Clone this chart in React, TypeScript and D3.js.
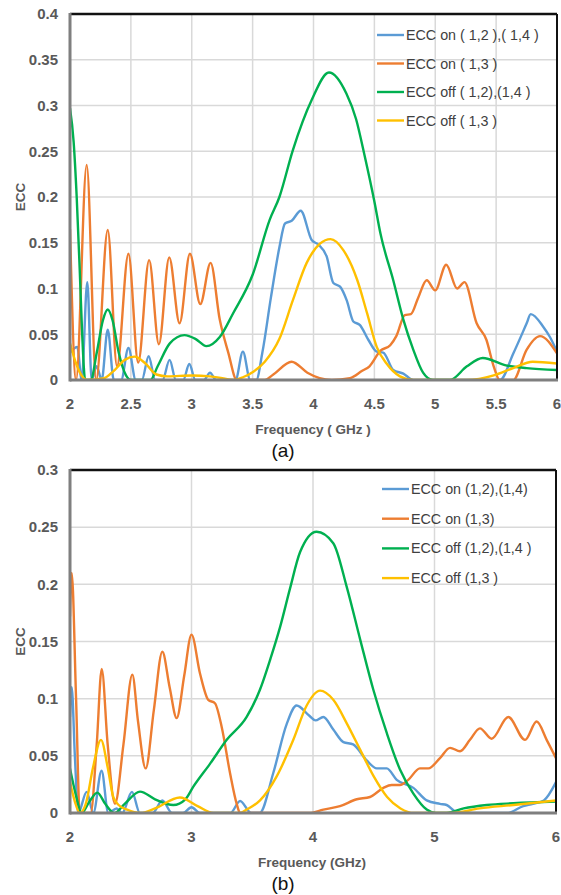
import React from 'react';
import * as d3 from 'd3';

type Pt = [number, number];

const FONT = 'Arial, "Liberation Sans", Helvetica, sans-serif';
const COLORS = ['#5b9bd5', '#ed7d31', '#00b050', '#ffc000'];

// ---------- Panel (a) ----------
const topXTicks = [2, 2.5, 3, 3.5, 4, 4.5, 5, 5.5, 6];
const topYTicks = [0, 0.05, 0.1, 0.15, 0.2, 0.25, 0.3, 0.35, 0.4];
const topLegend = ['ECC on ( 1,2 ),( 1,4 )', 'ECC on ( 1,3 )', 'ECC off ( 1,2),(1,4 )', 'ECC off ( 1,3 )'];

const topOnA: Pt[] = [[2.0,0.03],[2.06,0.036],[2.096,0.0],[2.142,0.107],[2.178,0.0],[2.219,0.015],[2.26,0.0],[2.31,0.055],[2.36,0.0],[2.42,0.0],[2.48,0.035],[2.54,0.0],[2.59,0.0],[2.646,0.026],[2.70,0.0],[2.76,0.0],[2.818,0.022],[2.87,0.0],[2.93,0.0],[2.98,0.0175],[3.03,0.0],[3.10,0.0],[3.15,0.008],[3.20,0.0],[3.36,0.0],[3.42,0.031],[3.48,0.0],[3.53,0.0],[3.58,0.03],[3.65,0.09],[3.72,0.145],[3.766,0.171],[3.821,0.174],[3.895,0.185],[3.985,0.153],[4.04,0.148],[4.108,0.135],[4.163,0.106],[4.218,0.102],[4.273,0.087],[4.327,0.064],[4.382,0.060],[4.45,0.044],[4.519,0.031],[4.573,0.030],[4.655,0.011],[4.738,0.007],[4.82,0.0],[5.532,0.0],[5.641,0.029],[5.751,0.062],[5.784,0.072],[5.888,0.058],[5.942,0.047],[6.0,0.031]];
const topOnB: Pt[] = [[2.0,0.165],[2.05,0.0],[2.137,0.235],[2.215,0.0],[2.31,0.164],[2.386,0.015],[2.48,0.138],[2.56,0.019],[2.65,0.131],[2.73,0.039],[2.815,0.134],[2.90,0.062],[2.985,0.138],[3.07,0.083],[3.155,0.128],[3.23,0.066],[3.30,0.03],[3.37,0.0],[3.6,0.0],[3.67,0.006],[3.82,0.020],[3.95,0.008],[4.05,0.002],[4.15,0.0],[4.3,0.002],[4.40,0.01],[4.46,0.015],[4.55,0.032],[4.63,0.038],[4.68,0.048],[4.75,0.071],[4.8,0.072],[4.86,0.09],[4.93,0.109],[5.0,0.098],[5.09,0.126],[5.18,0.100],[5.24,0.107],[5.34,0.062],[5.42,0.044],[5.48,0.015],[5.53,0.0],[5.64,0.0],[5.75,0.033],[5.86,0.048],[6.0,0.029]];
const topOffA: Pt[] = [[2.0,0.297],[2.03,0.26],[2.055,0.2],[2.08,0.12],[2.10,0.05],[2.125,0.0],[2.17,0.0],[2.22,0.03],[2.27,0.065],[2.31,0.077],[2.35,0.065],[2.40,0.03],[2.46,0.005],[2.50,0.0],[2.66,0.0],[2.72,0.015],[2.82,0.040],[2.94,0.049],[3.03,0.045],[3.12,0.037],[3.23,0.047],[3.34,0.073],[3.50,0.115],[3.64,0.175],[3.72,0.20],[3.83,0.251],[3.985,0.306],[4.127,0.336],[4.27,0.313],[4.35,0.285],[4.42,0.245],[4.5,0.195],[4.55,0.16],[4.655,0.109],[4.738,0.066],[4.82,0.033],[4.9,0.008],[4.98,0.0],[5.12,0.0],[5.26,0.015],[5.39,0.024],[5.58,0.016],[5.75,0.013],[6.0,0.011]];
const topOffB: Pt[] = [[2.0,0.040],[2.05,0.018],[2.1,0.004],[2.14,0.0],[2.28,0.002],[2.36,0.010],[2.45,0.022],[2.53,0.0255],[2.62,0.018],[2.71,0.006],[2.8,0.004],[3.0,0.005],[3.15,0.004],[3.25,0.002],[3.34,0.0],[3.42,0.003],[3.506,0.009],[3.6,0.02],[3.72,0.045],[3.83,0.087],[3.944,0.128],[4.053,0.149],[4.14,0.154],[4.245,0.142],[4.36,0.109],[4.44,0.073],[4.52,0.036],[4.6,0.018],[4.71,0.004],[4.82,0.0],[5.26,0.0],[5.48,0.005],[5.64,0.013],[5.80,0.020],[6.0,0.018]];

// ---------- Panel (b) ----------
const botXTicks = [2, 3, 4, 5, 6];
const botYTicks = [0, 0.05, 0.1, 0.15, 0.2, 0.25, 0.3];
const botLegend = ['ECC on (1,2),(1,4)', 'ECC on (1,3)', 'ECC off (1,2),(1,4 )', 'ECC off (1,3 )'];

const botOnA: Pt[] = [[2.0,0.084],[2.014,0.110],[2.04,0.05],[2.068,0.0],[2.137,0.0185],[2.192,0.0],[2.26,0.037],[2.315,0.0],[2.384,0.004],[2.43,0.0],[2.51,0.0185],[2.575,0.0],[2.68,0.0],[2.76,0.011],[2.84,0.0],[2.93,0.0],[3.0,0.005],[3.07,0.0],[3.32,0.0],[3.40,0.0105],[3.49,0.0],[3.56,0.0],[3.673,0.035],[3.784,0.078],[3.865,0.094],[3.97,0.085],[4.02,0.081],[4.085,0.084],[4.167,0.073],[4.25,0.062],[4.33,0.060],[4.442,0.046],[4.525,0.039],[4.607,0.039],[4.689,0.029],[4.826,0.022],[4.936,0.011],[5.045,0.008],[5.1,0.007],[5.18,0.001],[5.3,0.0],[5.6,0.0],[5.73,0.006],[5.81,0.008],[5.9,0.011],[6.0,0.027]];
const botOnB: Pt[] = [[2.0,0.172],[2.014,0.210],[2.05,0.1],[2.08,0.0],[2.17,0.0],[2.22,0.06],[2.261,0.126],[2.31,0.06],[2.37,0.008],[2.44,0.06],[2.513,0.121],[2.56,0.08],[2.623,0.039],[2.69,0.09],[2.76,0.141],[2.82,0.11],[2.878,0.083],[2.94,0.12],[3.0,0.156],[3.07,0.122],[3.138,0.099],[3.193,0.096],[3.249,0.075],[3.317,0.035],[3.372,0.008],[3.40,0.0],[3.97,0.0],[4.085,0.003],[4.222,0.006],[4.36,0.012],[4.469,0.014],[4.579,0.022],[4.648,0.0245],[4.716,0.0245],[4.784,0.029],[4.88,0.039],[4.949,0.039],[5.045,0.048],[5.128,0.057],[5.21,0.054],[5.292,0.064],[5.374,0.074],[5.471,0.065],[5.607,0.084],[5.745,0.064],[5.841,0.080],[5.923,0.064],[6.0,0.048]];
const botOffA: Pt[] = [[2.0,0.039],[2.05,0.015],[2.096,0.0],[2.16,0.01],[2.225,0.0178],[2.29,0.008],[2.365,0.0],[2.45,0.008],[2.576,0.0187],[2.7,0.012],[2.85,0.007],[2.95,0.012],[3.015,0.023],[3.152,0.043],[3.29,0.064],[3.454,0.084],[3.564,0.108],[3.65,0.135],[3.73,0.163],[3.81,0.196],[3.893,0.228],[4.03,0.246],[4.167,0.236],[4.277,0.198],[4.39,0.151],[4.496,0.108],[4.607,0.070],[4.716,0.038],[4.826,0.017],[4.936,0.003],[5.01,0.0],[5.1,0.0],[5.24,0.004],[5.43,0.007],[5.65,0.0085],[6.0,0.010]];
const botOffB: Pt[] = [[2.0,0.027],[2.04,0.01],[2.08,0.0],[2.13,0.008],[2.19,0.04],[2.255,0.064],[2.31,0.04],[2.356,0.014],[2.40,0.007],[2.47,0.003],[2.58,0.0],[2.7,0.004],[2.905,0.0135],[3.05,0.006],[3.18,0.0],[3.40,0.0],[3.454,0.003],[3.564,0.011],[3.701,0.032],[3.838,0.064],[3.948,0.094],[4.058,0.107],[4.167,0.099],[4.28,0.078],[4.39,0.055],[4.5,0.032],[4.61,0.014],[4.72,0.004],[4.83,0.0],[5.15,0.0],[5.37,0.004],[5.65,0.007],[6.0,0.011]];

interface PanelProps {
  id: string;
  left: number; right: number; top: number; bottom: number;
  yMax: number;
  xTicks: number[]; yTicks: number[];
  series: Pt[][];
  legend: string[];
  legendX: number; legendY: number; legendDy: number;
  xTitle: string; xTitleX: number; xTitleY: number;
  caption: string; captionX: number; captionY: number;
  xLabelY: number;
}

function Panel(p: PanelProps) {
  const x = d3.scaleLinear().domain([2, 6]).range([p.left, p.right]);
  const y = d3.scaleLinear().domain([0, p.yMax]).range([p.bottom, p.top]);
  const line = d3.line<Pt>().x(d => x(d[0])).y(d => y(d[1])).curve(d3.curveMonotoneX);
  const grid = '#d9d9d9';
  const tickFill = '#595959';
  return (
    <g>
      <defs>
        <clipPath id={p.id}>
          <rect x={p.left} y={p.top - 2} width={p.right - p.left} height={p.bottom - p.top + 3} />
        </clipPath>
      </defs>
      {p.yTicks.slice(1, -1).map(t => (
        <line key={'gy' + t} x1={p.left} x2={p.right} y1={y(t)} y2={y(t)} stroke={grid} strokeWidth={1.5} />
      ))}
      {p.xTicks.slice(1, -1).map(t => (
        <line key={'gx' + t} x1={x(t)} x2={x(t)} y1={p.top} y2={p.bottom} stroke={grid} strokeWidth={1.5} />
      ))}
      <g clipPath={`url(#${p.id})`}>
        {p.series.map((s, i) => (
          <path key={i} d={line(s) || ''} fill="none" stroke={COLORS[i]} strokeWidth={2.4} strokeLinejoin="round" />
        ))}
      </g>
      <line x1={p.left} x2={p.right} y1={p.top} y2={p.top} stroke="#111" strokeWidth={2.5} />
      <line x1={p.right} x2={p.right} y1={p.top} y2={p.bottom} stroke="#111" strokeWidth={2} />
      <line x1={p.left} x2={p.right + 1} y1={p.bottom} y2={p.bottom} stroke="#7f7f7f" strokeWidth={3} />
      <line x1={p.left} x2={p.left} y1={p.top - 1} y2={p.bottom + 1.5} stroke="#7f7f7f" strokeWidth={3} />
      {p.yTicks.map(t => (
        <text key={'ty' + t} x={p.left - 12} y={y(t)} dy="0.35em" textAnchor="end" fontFamily={FONT} fontWeight="bold" fontSize={15} fill={tickFill}>{String(t)}</text>
      ))}
      {p.xTicks.map(t => (
        <text key={'tx' + t} x={x(t)} y={p.xLabelY} dy="0.35em" textAnchor="middle" fontFamily={FONT} fontWeight="bold" fontSize={15} fill={tickFill}>{String(t)}</text>
      ))}
      <text transform={`translate(20,${(p.top + p.bottom) / 2}) rotate(-90)`} dy="0.35em" textAnchor="middle" fontFamily={FONT} fontWeight="bold" fontSize={13.5} fill={tickFill}>ECC</text>
      <text x={p.xTitleX} y={p.xTitleY} dy="0.35em" textAnchor="middle" fontFamily={FONT} fontWeight="bold" fontSize={13.5} fill={tickFill}>{p.xTitle}</text>
      <text x={p.captionX} y={p.captionY} dy="0.35em" textAnchor="middle" fontFamily={FONT} fontSize={19} fill="#111">{p.caption}</text>
      {p.legend.map((name, i) => (
        <g key={'lg' + i}>
          <line x1={p.legendX} x2={p.legendX + 27} y1={p.legendY + i * p.legendDy} y2={p.legendY + i * p.legendDy} stroke={COLORS[i]} strokeWidth={2.4} />
          <text x={p.legendX + 29} y={p.legendY + i * p.legendDy} dy="0.35em" fontFamily={FONT} fontSize={14.3} fill="#404040">{name}</text>
        </g>
      ))}
    </g>
  );
}

export default function App() {
  return (
    <svg width={561} height={895} viewBox="0 0 561 895" style={{ position: 'absolute', left: 0, top: 0, background: '#fff' }}>
      <rect x={0} y={0} width={561} height={895} fill="#fff" />
      <Panel id="clipA" left={70} right={557} top={14} bottom={380} yMax={0.4}
        xTicks={topXTicks} yTicks={topYTicks} series={[topOnA, topOnB, topOffA, topOffB]}
        legend={topLegend} legendX={377} legendY={35} legendDy={28.5}
        xTitle="Frequency ( GHz )" xTitleX={313} xTitleY={429}
        caption="(a)" captionX={283} captionY={450} xLabelY={404} />
      <Panel id="clipB" left={70} right={556} top={470} bottom={813} yMax={0.3}
        xTicks={botXTicks} yTicks={botYTicks} series={[botOnA, botOnB, botOffA, botOffB]}
        legend={botLegend} legendX={382} legendY={489} legendDy={29.7}
        xTitle="Frequency (GHz)" xTitleX={312} xTitleY={862}
        caption="(b)" captionX={283} captionY={883} xLabelY={837} />
    </svg>
  );
}
